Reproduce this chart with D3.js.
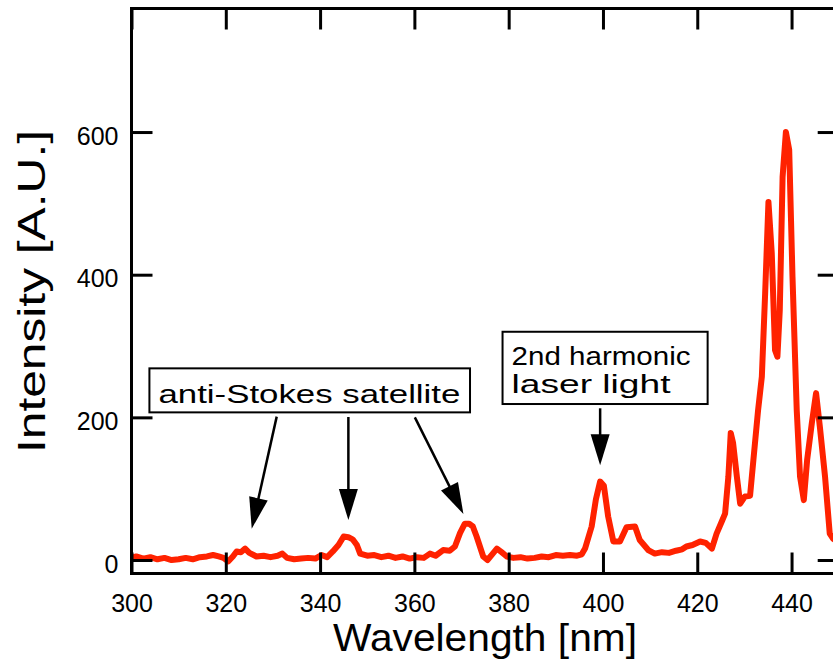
<!DOCTYPE html>
<html>
<head>
<meta charset="utf-8">
<script src="https://cdn.jsdelivr.net/npm/d3@7"></script>
<style>
  html, body { margin: 0; padding: 0; background: #fff; }
  svg { display: block; font-family: "Liberation Sans", Arial, Helvetica, sans-serif; }
</style>
</head>
<body>
<svg id="chart" width="833" height="665"></svg>
<script>
// Emission spectrum: wavelength (nm) and intensity (arbitrary units)
const wavelength = [
  300, 301, 302.5, 304, 305.5, 307, 308.5, 310, 311.5, 313, 314.5, 316, 317.3, 318.5, 319.5,
  320.5, 321.5, 322.3, 323.2, 324.1, 325, 326.5, 328, 329.5, 331, 332, 333, 334.5, 336, 337.5,
  339, 340.3, 341.5, 342.7, 343.9, 345, 346, 346.9, 347.8, 348.5, 350, 351.5, 353, 354.5, 356,
  357.5, 359, 360.5, 362, 363.3, 364.5, 366.1, 367.5, 368.6, 369.7, 370.7, 371.6, 372.4, 373.2,
  374.6, 375.5, 376.5, 377.5, 378.5, 379.6, 381, 382.5, 384, 385.5, 387, 388.5, 390, 391.5, 393,
  394.5, 395.5, 396.2, 397.6, 398.5, 399.4, 400.2, 401.1, 402.2, 403.6, 405, 406.8, 407.8, 409.6,
  411, 412.5, 414, 415.5, 416.8, 417.7, 419, 420.6, 421.8, 423.1, 424.1, 425.2, 425.9, 426.6,
  427.1, 427.6, 428.4, 429.1, 430.1, 431.2, 431.9, 432.9, 433.7, 434.4, 435.1, 435.8, 436.5,
  437, 437.5, 438.1, 438.8, 439.5, 440.2, 441.1, 441.8, 442.6, 443.3, 444.3, 445.2, 446, 447.1,
  448.1, 448.8, 450
];
const intensity = [
  3, 5, 2, 4, 1, 3, 0, 1, 3, 1, 4, 5, 7, 5, 3,
  -2, 5, 12, 11, 16, 10, 5, 6, 4, 6, 9, 3, 1, 2, 3,
  2, 7, 4, 12, 21, 33, 32, 29, 21, 9, 6, 7, 4, 6, 3,
  5, 2, 4, 3, 9, 6, 14, 13, 19, 38, 51, 51, 47, 33,
  5, 0, 8, 16, 11, 5, 3, 4, 2, 3, 5, 4, 7, 6, 7,
  6, 8, 16, 47, 85, 110, 104, 61, 26, 26, 46, 47, 28, 14,
  9, 11, 10, 13, 15, 19, 21, 26, 24, 16, 37, 54, 65, 117,
  178, 164, 117, 79, 89, 90, 140, 210, 257, 374, 502, 430, 294,
  285, 350, 537, 600, 575, 397, 210, 117, 84, 140, 192, 234, 187, 117,
  37, 30, 25
];

const xTicks = [300, 320, 340, 360, 380, 400, 420, 440];
const yTicks = [0, 200, 400, 600];

// Callouts, positioned in data units: label box corners and arrow start/tip
const calloutLines = [["anti-Stokes satellite"], ["2nd harmonic", "laser light"]];
const calloutBoxes = [[303.8, 268.7, 371.8, 207], [378.7, 320, 422.2, 218.7]];
const arrowStarts = [[330.8, 201], [346, 200.5], [360.1, 200], [399.4, 212.7]];
const arrowTips = [[325.5, 44], [346, 56], [370.4, 64.5], [399.4, 133]];

const svg = d3.select("#chart");
const plotLeft = 131.5, plotRight = 838.7, plotTop = 8.5, plotBottom = 573.5;

const x = d3.scaleLinear().domain([300, 450]).range([plotLeft, plotRight]);
const y = d3.scaleLinear().domain([-18.9, 773.2]).range([plotBottom, plotTop]);

svg.append("defs").append("clipPath").attr("id", "plotClip")
  .append("rect").attr("x", plotLeft).attr("y", plotTop)
  .attr("width", plotRight - plotLeft).attr("height", plotBottom - plotTop);

// Spectrum trace
const pts = wavelength.map((w, i) => [w, intensity[i]]);
svg.append("path")
  .datum(pts)
  .attr("clip-path", "url(#plotClip)")
  .attr("fill", "none")
  .attr("stroke", "#ff2200")
  .attr("stroke-width", 6)
  .attr("stroke-linejoin", "round")
  .attr("stroke-linecap", "round")
  .attr("d", d3.line().x(d => x(d[0])).y(d => y(d[1])));

// Axes with inward ticks on all four sides
const tickLen = 21;
function styleAxis(g) {
  g.select(".domain").remove();
  g.selectAll(".tick line").attr("stroke", "#000").attr("stroke-width", 3);
  g.selectAll(".tick text").attr("fill", "#000")
    .style("font-size", "25px")
    .style("font-family", '"Liberation Sans", Arial, Helvetica, sans-serif');
}

const gBottom = svg.append("g").attr("transform", `translate(0,${plotBottom})`)
  .call(d3.axisBottom(x).tickValues(xTicks).tickSize(-tickLen).tickFormat(d3.format("d")))
  .call(styleAxis);
gBottom.selectAll(".tick text").attr("y", 0).attr("dy", 38);

svg.append("g").attr("transform", `translate(0,${plotTop})`)
  .call(d3.axisTop(x).tickValues(xTicks).tickSize(-tickLen).tickFormat(""))
  .call(styleAxis);

const gLeft = svg.append("g").attr("transform", `translate(${plotLeft},0)`)
  .call(d3.axisLeft(y).tickValues(yTicks).tickSize(-tickLen).tickFormat(d3.format("d")))
  .call(styleAxis);
gLeft.selectAll(".tick text").attr("x", -13).attr("dy", 12);

svg.append("g").attr("transform", `translate(${plotRight},0)`)
  .call(d3.axisRight(y).tickValues(yTicks).tickSize(-tickLen).tickFormat(""))
  .call(styleAxis);

// Plot frame
svg.append("rect")
  .attr("x", plotLeft).attr("y", plotTop)
  .attr("width", plotRight - plotLeft).attr("height", plotBottom - plotTop)
  .attr("fill", "none").attr("stroke", "#000").attr("stroke-width", 3);

// Axis titles
svg.append("text")
  .attr("x", 333).attr("y", 651)
  .attr("textLength", 304).attr("lengthAdjust", "spacingAndGlyphs")
  .style("font-size", "39px").attr("fill", "#000")
  .text("Wavelength [nm]");

svg.append("text")
  .attr("transform", "translate(45,453) rotate(-90)")
  .attr("x", 0).attr("y", 0)
  .attr("textLength", 323).attr("lengthAdjust", "spacingAndGlyphs")
  .style("font-size", "39px").attr("fill", "#000")
  .text("Intensity [A.U.]");

// Callout boxes and labels
const lineLengths = [[302], [179, 159]];
const lineOffsets = [[34.4], [33.3, 61]];
calloutBoxes.forEach((b, i) => {
  const x0 = x(b[0]), y0 = y(b[1]), x1 = x(b[2]), y1 = y(b[3]);
  svg.append("rect")
    .attr("x", x0).attr("y", y0)
    .attr("width", x1 - x0).attr("height", y1 - y0)
    .attr("fill", "#fff").attr("stroke", "#000").attr("stroke-width", 2);
  calloutLines[i].forEach((t, j) => {
    svg.append("text")
      .attr("x", x0 + 9).attr("y", y0 + lineOffsets[i][j])
      .attr("textLength", lineLengths[i][j]).attr("lengthAdjust", "spacingAndGlyphs")
      .style("font-size", "26px").attr("fill", "#000")
      .text(t);
  });
});

// Arrows from the callouts to the peaks
const headLen = 31, headHalf = 9.5;
arrowStarts.forEach((s, i) => {
  const sx = x(s[0]), sy = y(s[1]);
  const tx = x(arrowTips[i][0]), ty = y(arrowTips[i][1]);
  const dx = tx - sx, dy = ty - sy, len = Math.hypot(dx, dy);
  const ux = dx / len, uy = dy / len;
  const bx = tx - ux * headLen, by = ty - uy * headLen;
  svg.append("line")
    .attr("x1", sx).attr("y1", sy).attr("x2", bx + ux * 2).attr("y2", by + uy * 2)
    .attr("stroke", "#000").attr("stroke-width", 2.5);
  svg.append("path")
    .attr("d", `M${tx},${ty}L${bx - uy * headHalf},${by + ux * headHalf}L${bx + uy * headHalf},${by - ux * headHalf}Z`)
    .attr("fill", "#000");
});
</script>
</body>
</html>
